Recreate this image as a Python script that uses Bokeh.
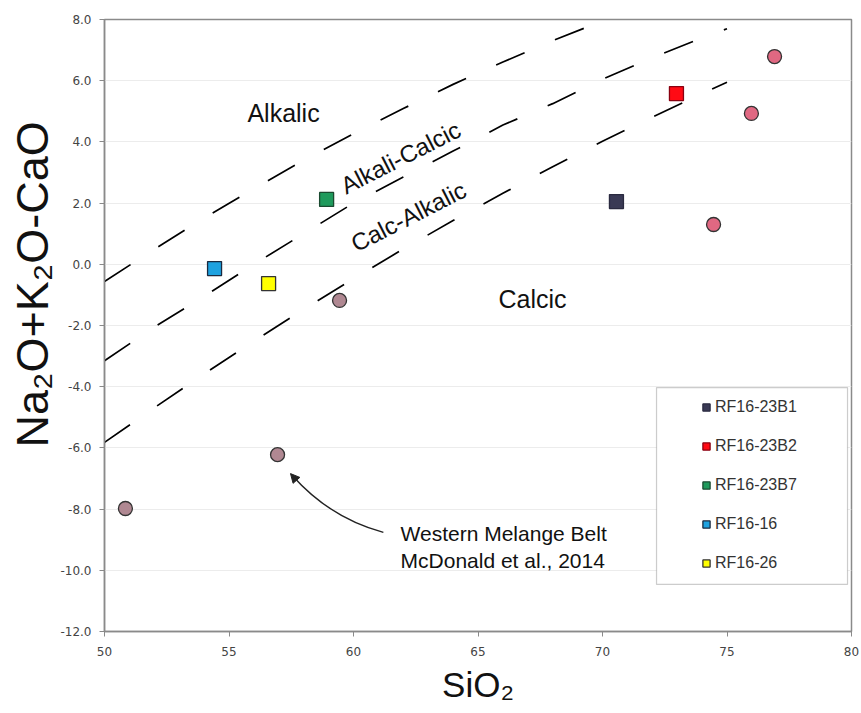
import math
from bokeh.plotting import figure
from bokeh.models import (Legend, LegendItem, FixedTicker, PrintfTickFormatter,
                          Title, BoxAnnotation, Arrow, NormalHead)
from bokeh.core.properties import value
from bokeh.embed import file_html
from bokeh.resources import INLINE

# ---- data ----
# MALI boundary lines (SiO2 vs Na2O+K2O-CaO)
alk_x = [50, 52, 54, 56, 58, 60, 62, 64, 66, 68, 70, 72]
alk_y = [-0.56, 0.49, 1.51, 2.47, 3.40, 4.27, 5.09, 5.88, 6.61, 7.31, 7.95, 8.55]

ac_x = [50, 52, 54, 56, 58, 60, 62, 64, 66, 68, 70, 72, 74, 75]
ac_y = [-3.15, -2.05, -1.05, 0.0, 1.0, 2.0, 2.85, 3.7, 4.55, 5.25, 6.05, 6.75, 7.4, 7.7]

ca_x = [50, 52, 54, 56, 58, 60, 62, 64, 66, 68, 70, 72, 74, 75]
ca_y = [-5.82, -4.69, -3.58, -2.51, -1.47, -0.47, 0.50, 1.43, 2.32, 3.19, 4.02, 4.81, 5.58, 5.95]

# samples
sample_names = ["RF16-23B1", "RF16-23B2", "RF16-23B7", "RF16-16", "RF16-26"]
sample_sio2 = [70.56, 72.97, 58.92, 54.42, 56.59]
sample_mali = [2.05, 5.58, 2.12, -0.14, -0.63]

# Western Melange Belt (McDonald et al., 2014)
wmb_sio2 = [50.84, 56.95, 59.44, 74.46, 75.98, 76.91]
wmb_mali = [-7.98, -6.22, -1.18, 1.30, 4.93, 6.79]

x_ticks = [50, 55, 60, 65, 70, 75, 80]
y_ticks = [-12, -10, -8, -6, -4, -2, 0, 2, 4, 6, 8]

# ---- styles ----
sample_fill = ["#3a3a55", "#ff0a14", "#1f9a5c", "#1ea2e0", "#ffff00"]
sample_line = ["#2a2a40", "#8a0010", "#1a4a30", "#1a2a40", "#333333"]

FONT = "Liberation Sans"

p = figure(width=861, height=713, output_backend="svg", toolbar_location=None,
           x_range=(50, 80), y_range=(-12, 8),
           min_border_left=104, min_border_right=10, min_border_top=19,
           min_border_bottom=82)
p.background_fill_color = "white"
p.border_fill_color = "white"
p.outline_line_color = "#8a8a8a"
p.outline_line_width = 1.5

p.xgrid.visible = False
p.ygrid.grid_line_color = "#ececec"
p.ygrid.ticker = FixedTicker(ticks=y_ticks)

for ax in (p.xaxis[0], p.yaxis[0]):
    ax.axis_line_color = "#8a8a8a"
    ax.axis_line_width = 1.5
    ax.major_tick_line_color = "#8a8a8a"
    ax.major_tick_out = 5
    ax.major_tick_in = 0
    ax.minor_tick_line_color = None
    ax.major_label_text_font = "DejaVu Sans"
    ax.major_label_text_font_size = "12px"
    ax.major_label_text_color = "#444444"

p.xaxis.ticker = FixedTicker(ticks=x_ticks)
p.yaxis.ticker = FixedTicker(ticks=y_ticks)
p.yaxis.formatter = PrintfTickFormatter(format="%.1f")
p.yaxis.major_label_standoff = 8
p.xaxis.major_label_standoff = 10
p.xaxis.axis_label = "SiO\u2082"
p.xaxis.axis_label_text_font = FONT
p.xaxis.axis_label_text_font_size = "35px"
p.xaxis.axis_label_text_font_style = "normal"
p.xaxis.axis_label_text_color = "#111111"
p.xaxis.axis_label_standoff = 6

# y-axis title (a side title, shifted up as in the original)
p.add_layout(Title(text="Na\u2082O+K\u2082O-CaO", align="left", offset=184,
                   text_font=FONT, text_font_size="45px", text_font_style="normal",
                   text_color="#111111", standoff=0), "left")

# boundary lines
for xs, ys in ((alk_x, alk_y), (ac_x, ac_y), (ca_x, ca_y)):
    p.line(xs, ys, line_color="black", line_width=1.7, line_dash="31 33")

# field labels
p.text(x=[57.19], y=[4.96], text=["Alkalic"], text_font=value(FONT),
       text_font_size="25px", text_align="center", text_baseline="middle", text_color="#111111")
p.text(x=[67.19], y=[-1.12], text=["Calcic"], text_font=value(FONT),
       text_font_size="25px", text_align="center", text_baseline="middle", text_color="#111111")
p.text(x=[61.89], y=[3.49], text=["Alkali-Calcic"], angle=math.radians(27),
       text_font=value(FONT), text_font_size="24px", text_align="center",
       text_baseline="middle", text_color="#111111")
p.text(x=[62.21], y=[1.56], text=["Calc-Alkalic"], angle=math.radians(27),
       text_font=value(FONT), text_font_size="24px", text_align="center",
       text_baseline="middle", text_color="#111111")

# Western Melange Belt points
p.scatter(wmb_sio2[:3], wmb_mali[:3], marker="circle", size=14,
          fill_color="#b08892", line_color="#333333", line_width=1.3)
p.scatter(wmb_sio2[3:], wmb_mali[3:], marker="circle", size=14,
          fill_color="#e06882", line_color="#333333", line_width=1.3)

# annotation text + curved arrow
p.text(x=[61.89, 61.89], y=[-8.80, -9.69],
       text=["Western Melange Belt", "McDonald et al., 2014"],
       text_font=value(FONT), text_font_size="21px", text_align="left",
       text_baseline="middle", text_color="#111111")
p.quadratic(x0=[61.2], y0=[-8.76], x1=[57.55], y1=[-6.91], cx=[59.06], cy=[-8.29],
            line_color="#222222", line_width=1.4)
p.add_layout(Arrow(end=NormalHead(size=9, fill_color="#222222", line_color="#222222"),
                   x_start=57.60, y_start=-6.96, x_end=57.47, y_end=-6.84,
                   line_color="#222222", line_width=1.4))

# sample squares
sample_renderers = []
for i, name in enumerate(sample_names):
    r = p.scatter([sample_sio2[i]], [sample_mali[i]], marker="square", size=14,
                  fill_color=sample_fill[i], line_color=sample_line[i], line_width=1.3)
    sample_renderers.append(r)

# legend box
p.add_layout(BoxAnnotation(left=72.17, right=79.84, top=-4.03, bottom=-10.46,
                           fill_color="white", fill_alpha=1.0,
                           line_color="#555555", line_width=1.2))
legend = Legend(items=[LegendItem(label=n, renderers=[r]) for n, r in zip(sample_names, sample_renderers)],
                location=(593, 59), padding=0, spacing=21, glyph_width=18, glyph_height=18,
                label_height=18, label_standoff=0, label_text_font=FONT,
                label_text_font_size="16px", label_text_color="#333333",
                border_line_alpha=0, background_fill_alpha=0)
p.add_layout(legend)

open("out.html", "w").write(file_html(p, INLINE))
